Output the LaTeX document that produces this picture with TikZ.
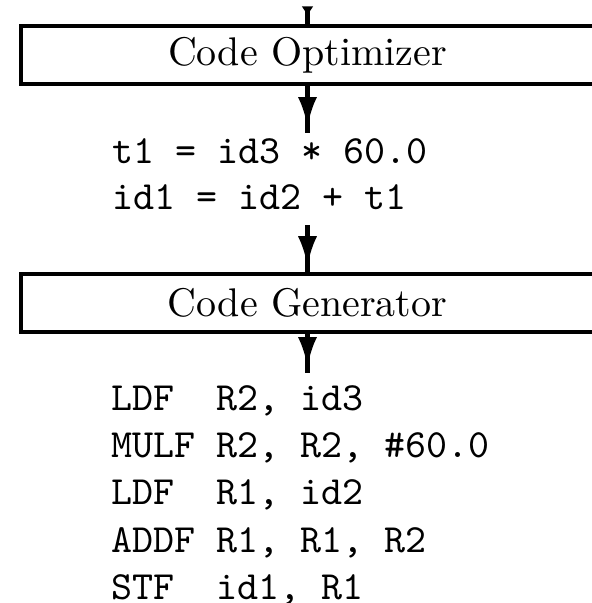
\documentclass[tikz,border=0pt]{standalone}
\usetikzlibrary{arrows.meta}
\begin{document}
\begin{tikzpicture}[x=0.25pt,y=-0.25pt,
  stage/.style={draw, line width=0.9pt, rectangle, minimum width=143.25pt,
    minimum height=14.5pt, inner sep=0pt},
  codeline/.style={anchor=base west, inner sep=0pt, font=\ttfamily},
  conn/.style={line width=1.1pt, postaction={draw, line width=1.1pt,
    -{Latex[length=7.5pt,width=4.8pt]}, shorten >=1.5pt}},
  topconn/.style={line width=1.1pt, postaction={draw, line width=1.1pt,
    -{Latex[length=2.5pt,width=3pt]}, shorten >=2pt}}]
\useasboundingbox (0,0) rectangle (592,603);
\clip (0,0) rectangle (592,603);

\node[stage] (opt) at (307.5,55.25) {Code Optimizer};
\node[stage] (gen) at (307.5,303) {Code Generator};

\coordinate (in) at (307.5,10);
\coordinate (a1) at (307.5,133);
\coordinate (a2) at (307.5,225);
\coordinate (a3) at (307.5,373);

\draw[topconn] (in) -- (opt.north);
\draw[conn] (opt.south) -- (a1);
\draw[conn] (a2) -- (gen.north);
\draw[conn] (gen.south) -- (a3);

\node[codeline] (ir1) at (112,163) {t1 = id3 * 60.0};
\node[codeline] (ir2) at (112,209) {id1 = id2 + t1};

\node[codeline] (c1) at (111,410) {LDF\ \ R2, id3};
\node[codeline] (c2) at (111,457) {MULF R2, R2, \#60.0};
\node[codeline] (c3) at (111,504) {LDF\ \ R1, id2};
\node[codeline] (c4) at (111,552) {ADDF R1, R1, R2};
\node[codeline] (c5) at (111,599) {STF\ \ id1, R1};
\end{tikzpicture}
\end{document}
